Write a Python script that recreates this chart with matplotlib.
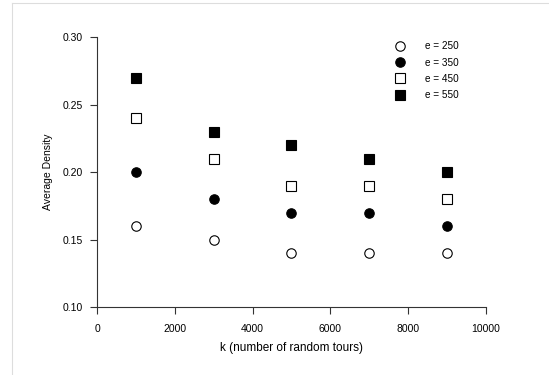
import matplotlib.pyplot as plt
from matplotlib.lines import Line2D

plt.rcParams["font.family"] = ["Liberation Sans", "DejaVu Sans"]

k_values = [1000, 3000, 5000, 7000, 9000]
density_e250 = [0.16, 0.15, 0.14, 0.14, 0.14]
density_e350 = [0.20, 0.18, 0.17, 0.17, 0.16]
density_e450 = [0.24, 0.21, 0.19, 0.19, 0.18]
density_e550 = [0.27, 0.23, 0.22, 0.21, 0.20]
series_labels = ["e = 250", "e = 350", "e = 450", "e = 550"]

# (marker, facecolor) per series
styles = [("o", "white"), ("o", "black"), ("s", "white"), ("s", "black")]


def main():
    fig = plt.figure(figsize=(5.49, 3.75), dpi=100)
    ax = fig.add_axes([0.1767, 0.1813, 0.7083, 0.72])

    series = [density_e250, density_e350, density_e450, density_e550]
    for vals, label, (m, fc) in zip(series, series_labels, styles):
        ax.plot(k_values, vals, linestyle="none", marker=m, markersize=6.8,
                markerfacecolor=fc, markeredgecolor="black",
                markeredgewidth=0.8, label=label, clip_on=False)

    ax.set_xlim(0, 10000)
    ax.set_ylim(0.10, 0.30)
    ax.set_xticks([0, 2000, 4000, 6000, 8000, 10000])
    ax.set_yticks([0.10, 0.15, 0.20, 0.25, 0.30])
    ax.yaxis.set_major_formatter(plt.FormatStrFormatter("%.2f"))
    ax.spines["top"].set_visible(False)
    ax.spines["right"].set_visible(False)
    for s in ("left", "bottom"):
        ax.spines[s].set_linewidth(0.8)
        ax.spines[s].set_color("#333333")
    ax.tick_params(direction="out", length=5, width=0.8, labelsize=7.5,
                   colors="#333333", labelcolor="black")
    ax.tick_params(axis="x", pad=7)
    ax.tick_params(axis="y", pad=5)
    ax.set_xlabel("k (number of random tours)", fontsize=8.5, labelpad=6)
    ax.set_ylabel("Average Density", fontsize=7.5, labelpad=7)

    ax.legend(loc="upper right", bbox_to_anchor=(0.953, 1.017), frameon=False,
              fontsize=7.2, handletextpad=2.0, labelspacing=0.62,
              handlelength=1.0)

    # light frame lines around the figure
    fig.add_artist(Line2D([12 / 549, 1], [1 - 3 / 375, 1 - 3 / 375],
                          color="#dddddd", linewidth=0.8))
    fig.add_artist(Line2D([12 / 549, 12 / 549], [0, 1 - 3 / 375],
                          color="#dddddd", linewidth=0.8))

    fig.savefig("out.png", dpi=100)


if __name__ == "__main__":
    main()
